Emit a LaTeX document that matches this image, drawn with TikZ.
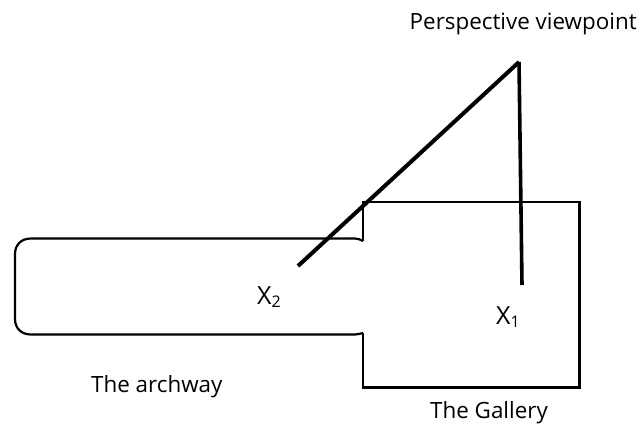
\documentclass[tikz,border=0pt]{standalone}
\usepackage{fontspec}
\setmainfont{Open Sans}
\tikzset{
  wall/.style={draw=black,line width=2.2pt,line join=miter},
  sight/.style={draw=black,line width=4pt},
  vertical/.style={draw=black,line width=3.6pt},
  lab/.style={inner sep=0pt,text=black,font=\fontsize{22.4}{24}\selectfont},
  pt/.style={inner sep=0pt,text=black,font=\fontsize{25}{27}\selectfont}
}
\newcommand{\sbs}[1]{\raisebox{-3.5pt}{\fontsize{16}{18}\selectfont #1}}
\begin{document}
\begin{tikzpicture}[x=1pt,y=-1pt]
\useasboundingbox (0,0) rectangle (640,424);
\fill[white] (0,0) rectangle (640,424);
\coordinate (view) at (519,62);
\coordinate (s2) at (298,266);
\coordinate (s1) at (522,285);
\draw[wall] (363,241) -- (363,202) -- (579.5,202) -- (579.5,387.5) -- (363,387.5) -- (363,333);
\draw[wall] (363,241) .. controls (360,239.5) and (358,238.5) .. (355,238.5) -- (31,238.5)
  .. controls (21,238.5) and (15,245) .. (15,254) -- (15,319)
  .. controls (15,328) and (21,334.5) .. (31,334.5) -- (355,334.5)
  .. controls (358,334.5) and (360,333.5) .. (363,333);
\draw[sight] (s2) -- (view);
\draw[vertical] (view) -- (s1);
\node[lab,anchor=base west] (pv) at (409.5,29) {Perspective viewpoint};
\node[pt,anchor=base west] (x2) at (257,304) {X\sbs{2}};
\node[pt,anchor=base west] (x1) at (496,324) {X\sbs{1}};
\node[lab,anchor=base west] (arch) at (91,392) {The archway};
\node[lab,anchor=base west] (gal) at (430,418) {The Gallery};
\end{tikzpicture}
\end{document}
